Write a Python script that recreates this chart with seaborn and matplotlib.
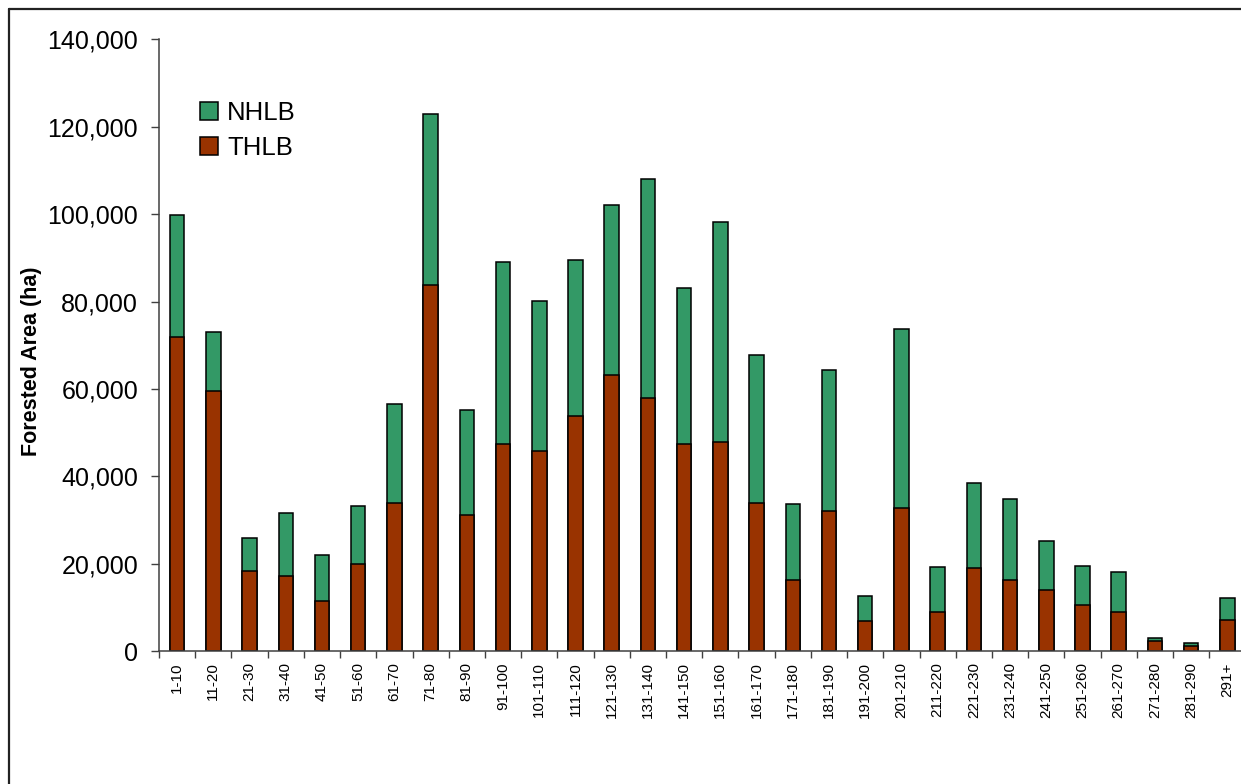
import matplotlib
matplotlib.use("Agg")
import matplotlib.pyplot as plt
from matplotlib.lines import Line2D
from matplotlib.patches import Patch
from matplotlib.ticker import FuncFormatter, FixedLocator
import numpy as np
import pandas as pd
import seaborn as sns

# ---- data ----
age_classes = ["1-10", "11-20", "21-30", "31-40", "41-50", "51-60", "61-70", "71-80",
               "81-90", "91-100", "101-110", "111-120", "121-130", "131-140", "141-150",
               "151-160", "161-170", "171-180", "181-190", "191-200", "201-210", "211-220",
               "221-230", "231-240", "241-250", "251-260", "261-270", "271-280", "281-290", "291+"]
thlb = [71800, 59500, 18300, 17200, 11400, 19900, 33900, 83700, 31100, 47400,
        45900, 53800, 63200, 57900, 47400, 47900, 34000, 16400, 32100, 7000,
        32800, 9000, 19100, 16200, 14000, 10700, 9100, 2300, 1100, 7100]
nhlb = [27900, 13500, 7600, 14500, 10600, 13400, 22600, 39200, 24000, 41700,
        34200, 35600, 38900, 50200, 35800, 50300, 33700, 17200, 32300, 5600,
        40900, 10300, 19400, 18600, 11200, 8700, 9000, 800, 900, 5200]
y_ticks = [0, 20000, 40000, 60000, 80000, 100000, 120000, 140000]
series_names = ["NHLB", "THLB"]

# ---- style ----
sns.set_style("white")
plt.rcParams["font.family"] = ["Liberation Sans", "DejaVu Sans"]
plt.rcParams["text.color"] = "black"

green = "#339966"
brown = "#993300"

df = pd.DataFrame({"age": age_classes, "THLB": thlb, "NHLB": nhlb})
df["total"] = df["THLB"] + df["NHLB"]

fig = plt.figure(figsize=(12.41, 7.84), dpi=100)
ax = fig.add_axes([159 / 1241, 1 - 651.3 / 784, 1086.5 / 1241, 612 / 784])

sns.barplot(data=df, x="age", y="total", color=green, saturation=1, width=0.4,
            edgecolor="black", linewidth=1.1, ax=ax)
sns.barplot(data=df, x="age", y="THLB", color=brown, saturation=1, width=0.4,
            edgecolor="black", linewidth=1.1, ax=ax)

ax.set_xlim(-0.5, len(age_classes) - 0.5)
ax.set_ylim(0, 140000)
ax.yaxis.set_major_locator(FixedLocator(y_ticks))
ax.yaxis.set_major_formatter(FuncFormatter(lambda v, p: f"{int(v):,}"))

ax.set_xlabel("")
ax.set_ylabel("Forested Area (ha)", fontsize=15.5, fontweight="bold", color="black")
ax.yaxis.set_label_coords((42 - 159) / 1086.5, (651.3 - 361) / 612)

ax.tick_params(axis="y", which="major", direction="out", length=6, width=1,
               color="#404040", labelsize=18, pad=9, left=True, labelcolor="black")
ax.set_xticks(range(len(age_classes)))
ax.set_xticklabels(age_classes, rotation=90)
ax.tick_params(axis="x", which="major", length=0, pad=8, labelcolor="black",
               labelsize=11)
ax.set_xticks(np.arange(-0.5, len(age_classes), 1.0), minor=True)
ax.tick_params(axis="x", which="minor", direction="out", length=5, width=1,
               color="#404040", bottom=True)

for s in ["top", "right"]:
    ax.spines[s].set_visible(False)
for s in ["left", "bottom"]:
    ax.spines[s].set_color("#404040")
    ax.spines[s].set_linewidth(1.1)

handles = [Patch(facecolor=green, edgecolor="black", linewidth=1.1),
           Patch(facecolor=brown, edgecolor="black", linewidth=1.1)]
ax.legend(handles, series_names, loc="upper left",
          bbox_to_anchor=((200 - 159) / 1086.5, (651.3 - 101) / 612),
          frameon=False, fontsize=18.5, handlelength=0.7, handleheight=0.7,
          handletextpad=0.35, labelspacing=0.42, borderaxespad=0, borderpad=0,
          labelcolor="black")

# outer frame lines (top and left)
fig.add_artist(Line2D([9 / 1241, 1], [1 - 9 / 784, 1 - 9 / 784], color="#222222",
                      linewidth=1.6, transform=fig.transFigure))
fig.add_artist(Line2D([9 / 1241, 9 / 1241], [0, 1 - 9 / 784], color="#222222",
                      linewidth=1.6, transform=fig.transFigure))

fig.savefig("out.png", dpi=100)
